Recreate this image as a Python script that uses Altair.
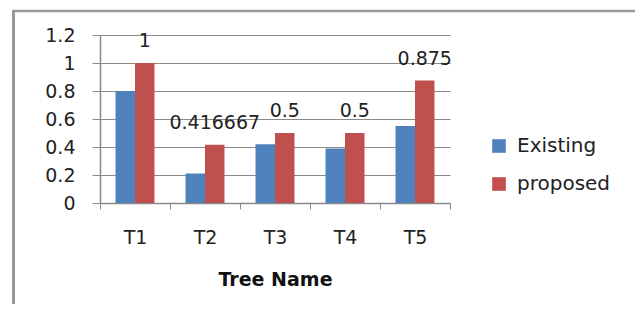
import altair as alt
import pandas as pd

trees = ["T1", "T2", "T3", "T4", "T5"]
existing = [0.8, 0.21, 0.42, 0.39, 0.55]
proposed = [1.0, 0.416667, 0.5, 0.5, 0.875]
series_names = ["Existing", "proposed"]
series_colors = ["#4F81BD", "#C0504D"]
y_ticks = [0, 0.2, 0.4, 0.6, 0.8, 1.0, 1.2]
x_title = "Tree Name"

rows = []
for t, e, p in zip(trees, existing, proposed):
    rows.append({"Tree": t, "Series": series_names[0], "Value": e})
    rows.append({"Tree": t, "Series": series_names[1], "Value": p})
df = pd.DataFrame(rows)
lab = pd.DataFrame({"Tree": trees, "Series": series_names[1], "Value": proposed})

FONT = "DejaVu Sans"
GRAY = "#8a8a8a"

x_axis = alt.Axis(
    title=x_title,
    labelAngle=0,
    labelFont=FONT,
    labelFontSize=19,
    labelColor="#222222",
    labelBaseline="alphabetic",
    labelPadding=34,
    tickSize=6,
    tickBand="extent",
    tickColor=GRAY,
    domainColor=GRAY,
    domainWidth=1.5,
    grid=False,
    titleFont=FONT,
    titleFontSize=19,
    titleFontWeight="bold",
    titleColor="#111111",
    titleX=175,
    titleY=82,
    titleBaseline="alphabetic",
)
y_axis = alt.Axis(
    title=None,
    values=y_ticks,
    format="~g",
    labelOverlap=False,
    labelFont=FONT,
    labelFontSize=19,
    labelColor="#222222",
    labelPadding=17,
    tickSize=8,
    tickColor=GRAY,
    domainColor=GRAY,
    domainWidth=1.5,
    grid=True,
    gridColor=GRAY,
    gridWidth=1,
)
x_scale = alt.Scale(paddingInner=0, paddingOuter=0)
y_scale = alt.Scale(domain=[0, 1.2], nice=False)
off_scale = alt.Scale(paddingInner=0, paddingOuter=0.795)

bars = alt.Chart(df).mark_bar().encode(
    x=alt.X("Tree:N", sort=trees, scale=x_scale, axis=x_axis),
    xOffset=alt.XOffset("Series:N", sort=series_names, scale=off_scale),
    y=alt.Y("Value:Q", scale=y_scale, axis=y_axis),
    color=alt.Color(
        "Series:N",
        sort=series_names,
        scale=alt.Scale(domain=series_names, range=series_colors),
        legend=alt.Legend(
            title=None,
            orient="none",
            legendX=389,
            legendY=101,
            symbolType="square",
            symbolSize=185,
            symbolStrokeWidth=0,
            labelFont=FONT,
            labelFontSize=20,
            labelColor="#222222",
            labelOffset=8,
            rowPadding=18,
            padding=0,
        ),
    ),
)

labels = alt.Chart(lab).mark_text(
    font=FONT, fontSize=19, color="#222222", baseline="alphabetic", dy=-16
).encode(
    x=alt.X("Tree:N", sort=trees, scale=x_scale, axis=x_axis),
    xOffset=alt.XOffset("Series:N", sort=series_names, scale=off_scale),
    y=alt.Y("Value:Q", scale=y_scale, axis=y_axis),
    text=alt.Text("Value:Q", format="~g"),
)

dummy = pd.DataFrame({"a": [0]})
border_left = alt.Chart(dummy).mark_rule(color="#999999", strokeWidth=3).encode(
    x=alt.value(-86.5), y=alt.value(-25), y2=alt.value(400)
)
border_top = alt.Chart(dummy).mark_rule(color="#999999", strokeWidth=2.5).encode(
    x=alt.value(-88), x2=alt.value(700), y=alt.value(-24)
)

chart = (
    alt.layer(border_left, border_top, bars, labels)
    .properties(
        width=350,
        height=168,
        autosize=alt.AutoSizeParams(type="none"),
        padding={"left": 92, "top": 27, "right": 185, "bottom": 101},
        background="white",
    )
    .configure_view(strokeWidth=0)
)

chart.save("out.html", embed_options={"renderer": "svg", "actions": False})
